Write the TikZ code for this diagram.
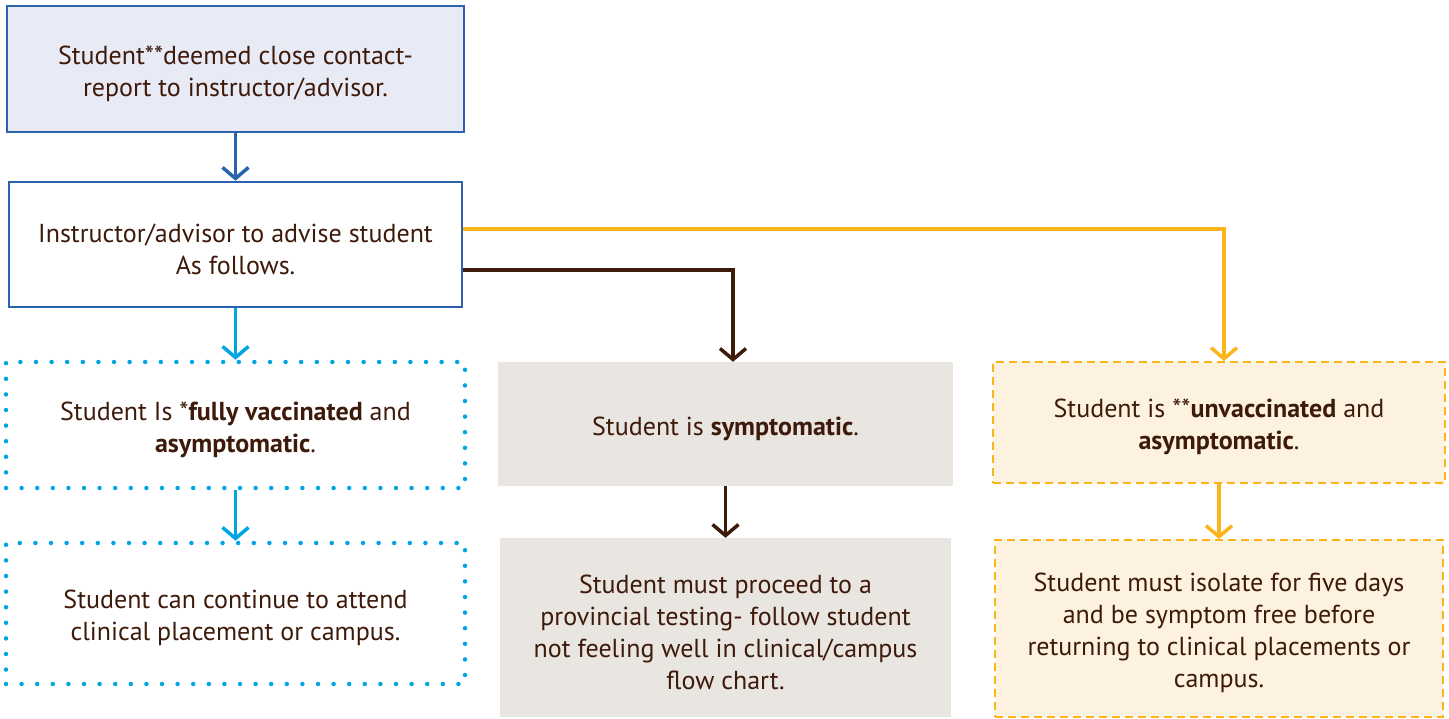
\documentclass[tikz,border=0pt]{standalone}
\usepackage{fontspec}
\setmainfont{PT Sans}
\usetikzlibrary{positioning,arrows.meta}
\definecolor{navyblue}{HTML}{2A63AC}
\definecolor{skyblue}{HTML}{00A6E2}
\definecolor{darkbrown}{HTML}{3E1A0A}
\definecolor{amber}{HTML}{FBB41A}
\definecolor{lavender}{HTML}{E8EAF5}
\definecolor{stone}{HTML}{E9E5E1}
\definecolor{cream}{HTML}{FDF1E0}
\newcommand{\topgap}{\rule{0pt}{28pt}}
\begin{document}
\begin{tikzpicture}[
  x=1pt, y=-1pt,
  font=\fontsize{26}{32}\selectfont,
  block/.style={rectangle, align=center, inner sep=0pt, text=darkbrown},
  navybox/.style={block, draw=navyblue, line width=2.5pt},
  dotbox/.style={block, draw=skyblue, line width=4.5pt, line cap=round, dash pattern=on 0pt off 15.6pt},
  stonebox/.style={block, fill=stone},
  amberbox/.style={block, draw=amber, fill=cream, line width=2pt, dash pattern=on 8pt off 5pt},
  flow/.style={line width=3.5pt, -{Straight Barb[length=11pt, width=26pt, line width=3.5pt]}}
]
\useasboundingbox (0,0) rectangle (1449,719);

% left column
\node[navybox, fill=lavender, minimum width=457pt, minimum height=126pt] (report) at (235.5,69)
  {\topgap Student**deemed close contact-\\report to instructor/advisor.};
\node[navybox, fill=white, minimum width=453pt, minimum height=125pt, below of=report, node distance=175.5pt] (advise)
  {\topgap Instructor/advisor to advise student\\As follows.};
\node[dotbox, minimum width=459pt, minimum height=126pt, below of=advise, node distance=180.5pt] (vacc)
  {\topgap Student Is *\textbf{fully vaccinated} and\\\textbf{asymptomatic}.};
\node[dotbox, minimum width=459pt, minimum height=141pt, below of=vacc, node distance=188.5pt] (attend)
  {\topgap Student can continue to attend\\clinical placement or campus.};

% middle column
\node[stonebox, minimum width=455pt, minimum height=124pt] (sympt) at (725.5,424)
  {\topgap Student is \textbf{symptomatic}.};
\node[stonebox, minimum width=451pt, minimum height=179pt, below of=sympt, node distance=203.5pt] (testing)
  {\topgap Student must proceed to a\\provincial testing- follow student\\not feeling well in clinical/campus\\flow chart.};

% right column
\node[amberbox, minimum width=452pt, minimum height=121pt] (unvacc) at (1219,422.5)
  {\topgap Student is **\textbf{unvaccinated} and\\\textbf{asymptomatic}.};
\node[amberbox, minimum width=448pt, minimum height=177pt, below of=unvacc, node distance=206pt] (isolate)
  {\topgap Student must isolate for five days\\and be symptom free before\\returning to clinical placements or\\campus.};

\draw[flow, navyblue] (report) -- (advise);
\draw[flow, skyblue] (advise) -- (vacc);
\draw[flow, skyblue] (vacc) -- (attend);
\draw[flow, darkbrown, line width=4pt] ([yshift=-25.5pt]advise.east) -| ([xshift=7.5pt]sympt.north);
\draw[flow, darkbrown] (sympt) -- (testing);
\draw[flow, amber, line width=4pt] ([yshift=15.5pt]advise.east) -| ([xshift=5pt]unvacc.north);
\draw[flow, amber] (unvacc) -- (isolate);
\end{tikzpicture}
\end{document}
